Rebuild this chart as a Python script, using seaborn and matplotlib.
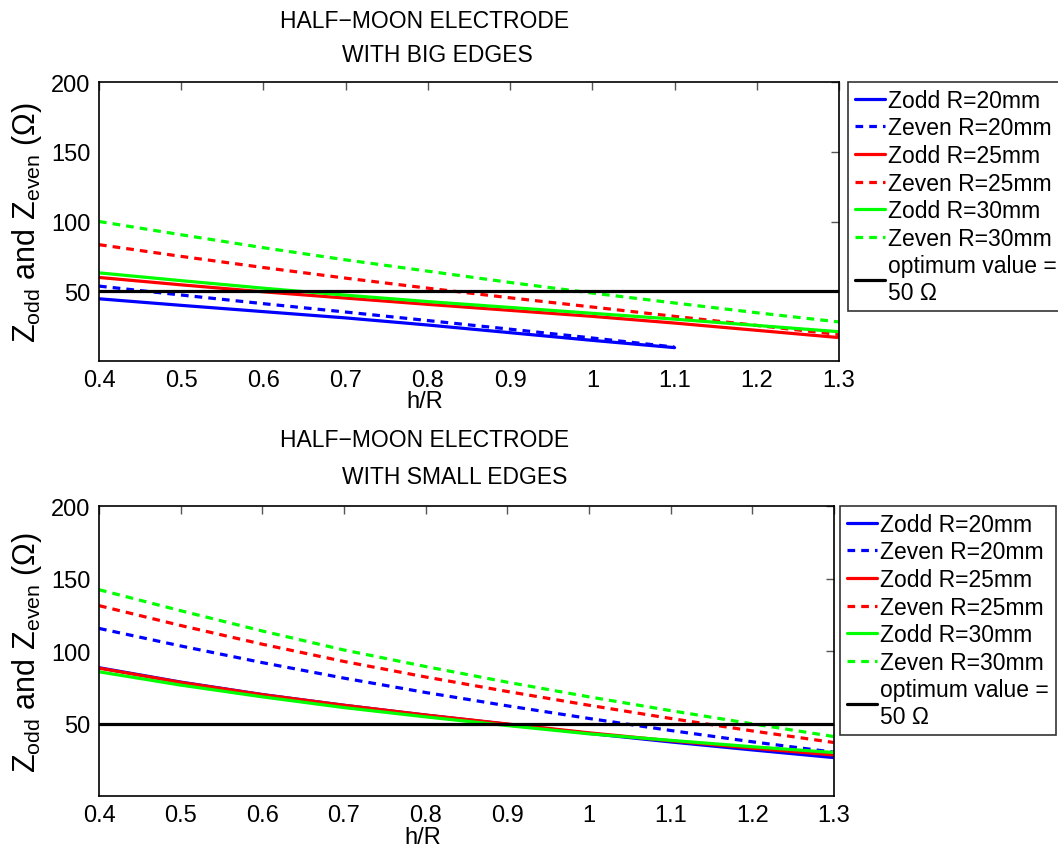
import numpy as np
import pandas as pd
import matplotlib
matplotlib.use("Agg")
import matplotlib.pyplot as plt
import seaborn as sns

# ---- data ----
h_over_R = [0.4, 0.5, 0.6, 0.7, 0.8, 0.9, 1.0, 1.1, 1.2, 1.3]
h_over_R_20 = [0.4, 0.5, 0.6, 0.7, 0.8, 0.9, 1.0, 1.1]

# Big edges
big_zodd_20 = [44.6, 39.9, 35.4, 30.9, 25.8, 20.3, 14.8, 9.6]
big_zeven_20 = [53.7, 47.3, 41.1, 35.1, 29.0, 22.8, 16.5, 10.0]
big_zodd_25 = [59.9, 54.6, 49.6, 45.1, 40.6, 36.3, 32.0, 27.2, 22.0, 16.8]
big_zeven_25 = [83.4, 75.0, 67.0, 59.4, 52.2, 45.3, 38.7, 32.0, 25.5, 19.0]
big_zodd_30 = [63.2, 57.6, 52.2, 47.2, 42.6, 38.4, 34.2, 30.0, 25.5, 21.0]
big_zeven_30 = [100.0, 90.5, 81.2, 72.5, 64.4, 56.3, 48.7, 41.6, 34.6, 28.0]

# Small edges
small_zodd_20 = [88.5, 78.6, 70.0, 62.6, 55.8, 49.5, 43.2, 37.3, 31.8, 26.5]
small_zeven_20 = [115.6, 103.5, 92.0, 81.3, 71.4, 62.2, 53.5, 45.2, 37.4, 30.2]
small_zodd_25 = [88.2, 78.4, 69.9, 62.6, 55.9, 49.7, 43.6, 38.1, 33.0, 28.3]
small_zeven_25 = [131.3, 117.6, 104.7, 92.8, 82.1, 72.1, 62.6, 53.5, 44.9, 36.9]
small_zodd_30 = [85.7, 76.5, 68.4, 61.0, 54.6, 48.6, 42.9, 38.4, 34.0, 30.0]
small_zeven_30 = [142.3, 127.8, 113.8, 100.7, 89.3, 78.5, 68.4, 58.9, 49.8, 41.0]

optimum = 50
labels = ["Zodd R=20mm", "Zeven R=20mm", "Zodd R=25mm", "Zeven R=25mm",
          "Zodd R=30mm", "Zeven R=30mm", "optimum value =\n50 \u03a9"]
x_ticks = [0.4, 0.5, 0.6, 0.7, 0.8, 0.9, 1.0, 1.1, 1.2, 1.3]
x_tick_labels = ["0.4", "0.5", "0.6", "0.7", "0.8", "0.9", "1", "1.1", "1.2", "1.3"]
y_ticks = [50, 100, 150, 200]

# ---- style ----
sns.set_style("white")
plt.rcParams['font.family'] = ['Liberation Sans', 'DejaVu Sans']
plt.rcParams['mathtext.fontset'] = 'custom'
plt.rcParams['mathtext.rm'] = 'Liberation Sans'
plt.rcParams['mathtext.it'] = 'Liberation Sans'
plt.rcParams['text.color'] = 'black'
plt.rcParams['axes.labelcolor'] = 'black'
plt.rcParams['xtick.color'] = 'black'
plt.rcParams['ytick.color'] = 'black'

fig = plt.figure(figsize=(10.58, 8.54), dpi=100)
ax1 = fig.add_axes([0.0936, 0.5761, 0.6994, 0.3267])
ax2 = fig.add_axes([0.0936, 0.0667, 0.6947, 0.3396])

LW = 2.3
DASH = (2.4, 1.9)


def draw(ax, series, legend_anchor, title2, title_y, t2x):
    colors = ["blue", "blue", "red", "red", "#00ff00", "#00ff00"]
    handles = []
    for (xs, ys), c, i in zip(series, colors, range(6)):
        df = pd.DataFrame({"x": xs, "y": ys})
        sns.lineplot(data=df, x="x", y="y", ax=ax, color=c, lw=LW)
        ln = ax.lines[-1]
        if i % 2 == 1:
            ln.set_dashes(DASH)
        handles.append(ln)
    hl = ax.axhline(optimum, color="black", lw=LW)
    handles.append(hl)
    ax.set_xlim(0.4, 1.3)
    ax.set_ylim(0, 200)
    ax.set_xticks(x_ticks)
    ax.set_xticklabels(x_tick_labels)
    ax.set_yticks(y_ticks)
    ax.tick_params(axis="both", direction="in", length=6, width=1,
                   labelsize=17, color="#555555", labelcolor="black", pad=6,
                   top=True, right=True)
    for s in ax.spines.values():
        s.set_visible(True)
        s.set_color("black")
        s.set_linewidth(1.2)
    ax.set_xlabel("h/R", fontsize=17, color="black")
    ax.xaxis.set_label_coords(0.44, -0.105)
    ax.set_ylabel(r"$\mathrm{Z_{odd}}$ and $\mathrm{Z_{even}}$ ($\Omega$)", fontsize=22, color="black")
    ax.yaxis.set_label_coords(-0.075, 0.5)
    leg = fig.legend(handles, labels, loc="upper left", bbox_to_anchor=legend_anchor,
                     fontsize=16.5, frameon=True, fancybox=False, edgecolor="black",
                     handlelength=1.3, handletextpad=0.15, labelspacing=0.2,
                     borderpad=0.3, borderaxespad=0.0, labelcolor="black")
    leg.get_frame().set_linewidth(1.2)
    fig.text(0.4017, title_y[0], "HALF\u2212MOON ELECTRODE", ha="center", va="center",
             fontsize=16.5, color="black")
    fig.text(t2x, title_y[1], title2, ha="center", va="center", fontsize=16.5, color="black")


draw(ax1,
     [(h_over_R_20, big_zodd_20), (h_over_R_20, big_zeven_20),
      (h_over_R, big_zodd_25), (h_over_R, big_zeven_25),
      (h_over_R, big_zodd_30), (h_over_R, big_zeven_30)],
     (0.8015, 0.9028), "WITH BIG EDGES", (1 - 22 / 854, 1 - 55 / 854), 437 / 1058)

draw(ax2,
     [(h_over_R, small_zodd_20), (h_over_R, small_zeven_20),
      (h_over_R, small_zodd_25), (h_over_R, small_zeven_25),
      (h_over_R, small_zodd_30), (h_over_R, small_zeven_30)],
     (0.794, 0.4063), "WITH SMALL EDGES", (1 - 441 / 854, 1 - 478 / 854), 455 / 1058)

fig.savefig("out.png", dpi=100)
